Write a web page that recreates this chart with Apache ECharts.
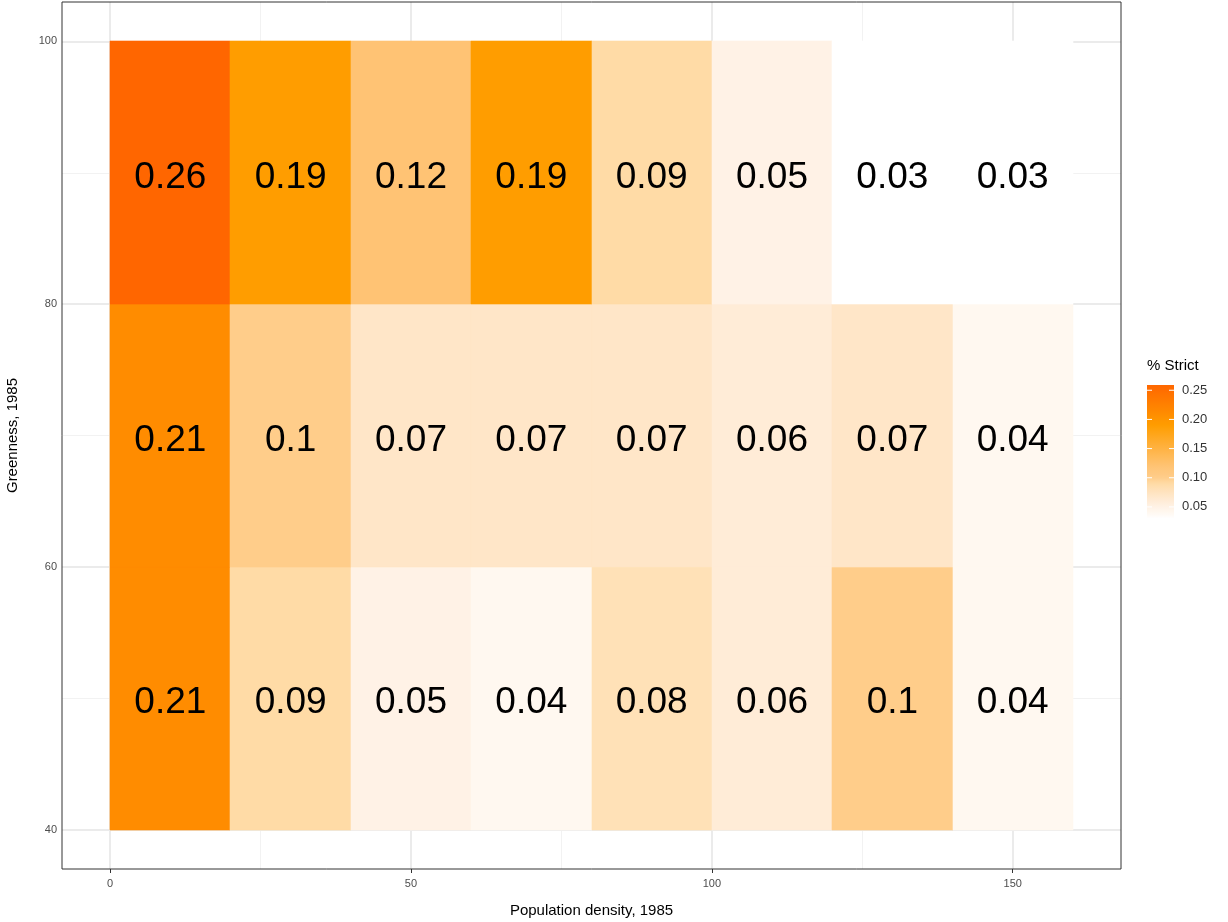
<!DOCTYPE html>
<html>
<head>
<meta charset="utf-8">
<script src="https://cdn.jsdelivr.net/npm/echarts@6/dist/echarts.min.js"></script>
<style>html,body{margin:0;padding:0;background:#fff}#c{width:1228px;height:922px}</style>
</head>
<body>
<div id="c"></div>
<script>
// ---- data ----
const xCenters = [10, 30, 50, 70, 90, 110, 130, 150];
const yCenters = [50, 70, 90];
const row50 = [0.21, 0.09, 0.05, 0.04, 0.08, 0.06, 0.10, 0.04];
const row70 = [0.21, 0.10, 0.07, 0.07, 0.07, 0.06, 0.07, 0.04];
const row90 = [0.26, 0.19, 0.12, 0.19, 0.09, 0.05, 0.03, 0.03];
const xTicks = [0, 50, 100, 150];
const yTicks = [40, 60, 80, 100];
const xMinor = [25, 75, 125];
const yMinor = [50, 70, 90];
const legendTicks = [0.05, 0.10, 0.15, 0.20, 0.25];
const cellW = 20, cellH = 20;

// ---- colour scale (style) ----
const anchors = [[0.03,[255,255,255]],[0.04,[255,248,240]],[0.05,[255,242,230]],[0.07,[255,230,200]],
  [0.09,[255,219,166]],[0.10,[255,205,138]],[0.12,[255,195,116]],[0.19,[255,157,0]],[0.21,[255,140,0]],[0.26,[255,102,0]]];
function colorAt(v){
  if (v<=anchors[0][0]) return rgb(anchors[0][1]);
  for (let i=1;i<anchors.length;i++){
    if (v<=anchors[i][0]){
      const a=anchors[i-1], b=anchors[i], t=(v-a[0])/(b[0]-a[0]);
      return rgb(a[1].map((c,k)=>c+(b[1][k]-c)*t));
    }
  }
  return rgb(anchors[anchors.length-1][1]);
}
function rgb(c){return 'rgb('+c.map(x=>Math.round(x)).join(',')+')';}
const vMin=0.03, vMax=0.26;
const palette=[]; for(let i=0;i<=46;i++){palette.push(colorAt(vMin+(vMax-vMin)*i/46));}

const data=[];
[[50,row50],[70,row70],[90,row90]].forEach(([y,row])=>row.forEach((v,i)=>data.push([xCenters[i],y,v])));

const FONT='Liberation Sans';
// legend layout
const lgX=1147, lgTop=385, lgBot=518, lgW=27;
const lgMin=0.031, lgMax=0.259;
function lgY(v){return lgBot-(v-lgMin)/(lgMax-lgMin)*(lgBot-lgTop);}
const stops=[]; for(let i=0;i<=40;i++){const v=lgMin+(lgMax-lgMin)*i/40; stops.push({offset:1-i/40,color:colorAt(v)});}
const graphics=[
  {type:'text',left:lgX,top:358,style:{text:'% Strict',font:'15px '+FONT,fill:'#000'}},
  {type:'rect',shape:{x:lgX,y:lgTop,width:lgW,height:lgBot-lgTop},style:{fill:{type:'linear',x:0,y:0,x2:0,y2:1,colorStops:stops}}}
];
legendTicks.forEach(v=>{
  const y=lgY(v);
  graphics.push({type:'line',shape:{x1:lgX,y1:y,x2:lgX+5,y2:y},style:{stroke:'#fff',lineWidth:1}});
  graphics.push({type:'line',shape:{x1:lgX+lgW-5,y1:y,x2:lgX+lgW,y2:y},style:{stroke:'#fff',lineWidth:1}});
  graphics.push({type:'text',x:lgX+lgW+8,y:y,style:{text:v.toFixed(2),font:'13px '+FONT,fill:'#333',textVerticalAlign:'middle'}});
});

const chart=echarts.init(document.getElementById('c'),null,{renderer:'canvas'});
chart.setOption({
  animation:false,
  backgroundColor:'#fff',
  grid:{left:62,top:2,right:107,bottom:53,show:true,borderColor:'#333',borderWidth:1,backgroundColor:'transparent',z:10,outerBoundsMode:'none',containLabel:false},
  xAxis:{type:'value',min:-8,max:168,
    name:'Population density, 1985',nameLocation:'middle',nameGap:34,
    nameTextStyle:{fontFamily:FONT,fontSize:15,color:'#000'},
    axisLine:{show:false},
    axisTick:{show:true,length:4,customValues:xTicks,lineStyle:{color:'#333'}},
    axisLabel:{customValues:xTicks,fontFamily:FONT,fontSize:11,color:'#4D4D4D',margin:9},
    splitLine:{show:false}},
  yAxis:{type:'value',min:37,max:103,
    name:'Greenness, 1985',nameLocation:'middle',nameGap:42,
    nameTextStyle:{fontFamily:FONT,fontSize:15,color:'#000'},
    axisLine:{show:false},
    axisTick:{show:true,length:4,customValues:yTicks,lineStyle:{color:'#333'}},
    axisLabel:{customValues:yTicks,fontFamily:FONT,fontSize:11,color:'#4D4D4D',margin:5},
    splitLine:{show:false}},
  visualMap:{show:false,type:'continuous',min:vMin,max:vMax,dimension:2,seriesIndex:1,inRange:{color:palette}},
  graphic:graphics,
  series:[
    {type:'line',data:[],z:1,silent:true,
      markLine:{silent:true,symbol:'none',animation:false,label:{show:false},
        data:[
          ...xMinor.map(v=>({xAxis:v,lineStyle:{color:'#F2F2F2',width:1,type:'solid'}})),
          ...yMinor.map(v=>({yAxis:v,lineStyle:{color:'#F2F2F2',width:1,type:'solid'}})),
          ...xTicks.map(v=>({xAxis:v,lineStyle:{color:'#EBEBEB',width:2,type:'solid'}})),
          ...yTicks.map(v=>({yAxis:v,lineStyle:{color:'#EBEBEB',width:2,type:'solid'}}))
        ]}},
    {type:'custom',z:5,data:data,
      renderItem:function(params,api){
        const x=api.value(0), y=api.value(1), v=api.value(2);
        const p1=api.coord([x-cellW/2,y+cellH/2]);
        const p2=api.coord([x+cellW/2,y-cellH/2]);
        const x0=Math.round(p1[0]), y0=Math.round(p1[1]);
        const x1=Math.round(p2[0]), y1=Math.round(p2[1]);
        const c=api.coord([x,y]);
        return {type:'group',children:[
          {type:'rect',shape:{x:x0,y:y0,width:x1-x0,height:y1-y0},style:{fill:api.visual('color'),stroke:api.visual('color'),lineWidth:0.6}},
          {type:'text',style:{text:String(+v.toFixed(2)),x:c[0],y:c[1]+5,textAlign:'center',textVerticalAlign:'middle',font:'37px '+FONT,fill:'#000'}}
        ]};
      }}
  ]
});
</script>
</body>
</html>
